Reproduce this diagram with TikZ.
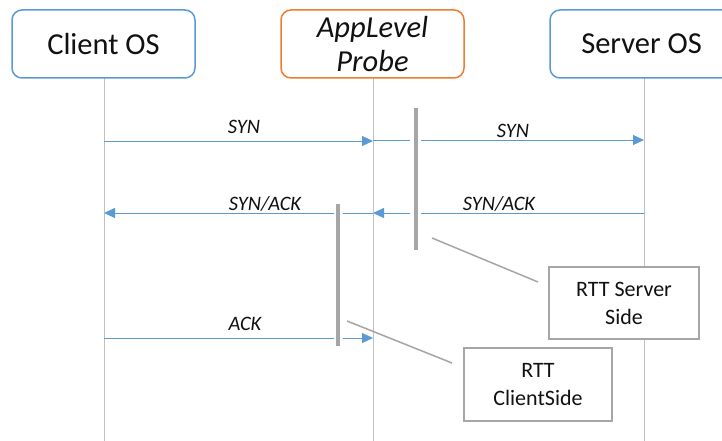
\documentclass[tikz,border=0pt]{standalone}
\usepackage{fontspec}
\setmainfont{Carlito}
\usetikzlibrary{arrows.meta}
\definecolor{msgblue}{HTML}{5B9BD5}
\definecolor{proborange}{HTML}{ED7D31}
\definecolor{lifegrey}{HTML}{C0C0C0}
\definecolor{bargrey}{HTML}{A6A6A6}
\definecolor{txt}{HTML}{111111}
\tikzset{
  actor/.style={draw=msgblue, line width=1.5pt, rounded corners=10pt, minimum width=183pt, minimum height=68pt, inner sep=0pt, font=\fontsize{30.5}{34}\selectfont, text=txt, align=center, fill=white},
  lifeline/.style={draw=lifegrey, line width=1pt},
  msg/.style={draw=msgblue, line width=1pt},
  msgarrow/.style={msg, -{Triangle[length=11pt,width=10pt]}},
  msglabel/.style={font=\fontsize{20.5}{24}\selectfont\itshape, text=txt, inner sep=0pt, anchor=base},
  actbar/.style={fill=bargrey, draw=none, minimum width=4pt, minimum height=142pt, inner sep=0pt},
  callout/.style={draw=bargrey, line width=1.5pt},
  notebox/.style={draw=bargrey, line width=1.5pt, fill=white, inner sep=0pt, align=center, font=\fontsize{22}{28}\selectfont, text=txt}
}
\begin{document}
\begin{tikzpicture}[x=1pt,y=-1pt]
\useasboundingbox (0,0) rectangle (722,441);
\clip (0,0) rectangle (722,441);
\fill[white] (0,0) rectangle (722,441);
% lifeline coordinates
\coordinate (ctop) at (104,78);  \coordinate (cbot) at (104,441);
\coordinate (ptop) at (373,78);  \coordinate (pbot) at (373,441);
\coordinate (stop) at (644,78);  \coordinate (sbot) at (644,441);
\draw[lifeline] (ctop) -- (cbot);
\draw[lifeline] (ptop) -- (pbot);
\draw[lifeline] (stop) -- (sbot);
% actors
\node[actor] (clientos) at (103.5,44) {Client OS};
\node[actor, draw=proborange] (probe) at (372.5,44) {\itshape AppLevel\\\itshape Probe};
\node[actor] (serveros) at (641.5,44) {Server OS};
% activation bars
\node[actbar] (bar1) at (416,179) {};
\node[actbar] (bar2) at (338,275) {};
% message endpoints
\coordinate (c1) at (104,141); \coordinate (p1) at (373,141);
\coordinate (p2) at (373,140); \coordinate (g2a) at (410,140); \coordinate (g2b) at (421,140); \coordinate (s2) at (644,140);
\coordinate (s3) at (644,213); \coordinate (g3b) at (421,213); \coordinate (g3a) at (410,213); \coordinate (p3) at (373,213);
\coordinate (g4b) at (343,213); \coordinate (g4a) at (334,213); \coordinate (c4) at (104,213);
\coordinate (c5) at (104,338); \coordinate (g5a) at (334,338); \coordinate (g5b) at (343,338); \coordinate (p5) at (373,338);
% messages
\draw[msgarrow] (c1) -- (p1);
\draw[msg] (p2) -- (g2a);
\draw[msgarrow] (g2b) -- (s2);
\draw[msg] (s3) -- (g3b);
\draw[msgarrow] (g3a) -- (p3);
\draw[msg] (p3) -- (g4b);
\draw[msgarrow] (g4a) -- (c4);
\draw[msg] (c5) -- (g5a);
\draw[msgarrow] (g5b) -- (p5);
% labels
\node[msglabel] (l1) at (244,133) {SYN};
\node[msglabel] (l2) at (513,137) {SYN};
\node[msglabel] (l3) at (265,210) {SYN/ACK};
\node[msglabel] (l4) at (499,210) {SYN/ACK};
\node[msglabel] (l5) at (245,330) {ACK};
% notes
\node[notebox, minimum width=150pt, minimum height=72pt] (rtts) at (624,303) {RTT Server\\Side};
\node[notebox, minimum width=148pt, minimum height=73pt] (rttc) at (538,384.5) {RTT\\ClientSide};
\coordinate (k1a) at (432,238); \coordinate (k1b) at (538,282);
\coordinate (k2a) at (347,321); \coordinate (k2b) at (452,363);
\draw[callout] (k1a) -- (k1b);
\draw[callout] (k2a) -- (k2b);
\end{tikzpicture}
\end{document}
